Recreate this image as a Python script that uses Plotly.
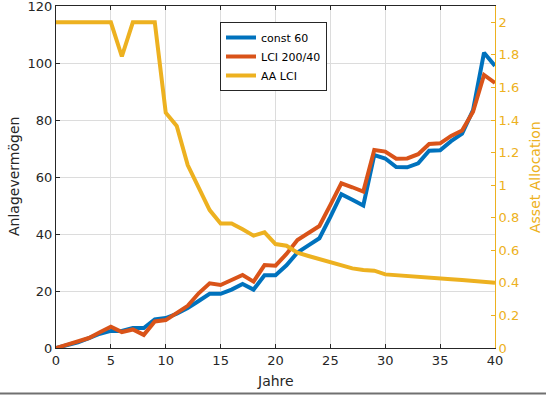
import plotly.graph_objects as go

years = list(range(0, 41))
const60 = [0, 1, 2, 3.5, 5, 6, 6, 7, 7, 10, 10.5, 12, 14, 16.5, 19, 19, 20.5, 22.5, 20.5, 25.5,
           25.5, 29, 33.5, 36, 38.5, 46, 54, 52, 50, 67.7, 66.5, 63.5, 63.4, 64.8, 69.2, 69.4,
           72.6, 75.2, 83.5, 103.6, 99]
lci = [0, 1.2, 2.2, 3.5, 5.5, 7.5, 5.6, 6.5, 4.6, 9.3, 9.8, 12.2, 14.8, 19.2, 22.7, 22.1, 23.9,
       25.6, 23.3, 29.1, 28.9, 33, 37.9, 40.2, 42.8, 50.2, 57.8, 56.4, 54.9, 69.5, 68.9, 66.4,
       66.5, 68, 71.6, 71.8, 74.4, 76.3, 82.9, 95.8, 93]
aa = [2, 2, 2, 2, 2, 2, 1.79, 2, 2, 2, 1.445, 1.363, 1.123, 0.986, 0.847, 0.765, 0.765, 0.729,
      0.69, 0.71, 0.638, 0.628, 0.585, 0.565, 0.546, 0.526, 0.51, 0.489, 0.479, 0.475, 0.452,
      0.446, 0.442, 0.438, 0.434, 0.428, 0.422, 0.417, 0.413, 0.409, 0.401]
names = ["const 60", "LCI 200/40", "AA LCI"]
colors = ["#0072BD", "#D95319", "#EDB120"]
xticks = [0, 5, 10, 15, 20, 25, 30, 35, 40]
yticks = [0, 20, 40, 60, 80, 100, 120]
y2ticks = [0, 0.2, 0.4, 0.6, 0.8, 1, 1.2, 1.4, 1.6, 1.8, 2]

FONT = "DejaVu Sans"
TXT = "#262626"
GRID = "#dcdcdc"

fig = go.Figure()
fig.add_trace(go.Scatter(x=years, y=const60, name=names[0], mode="lines",
                         line=dict(color=colors[0], width=4)))
fig.add_trace(go.Scatter(x=years, y=lci, name=names[1], mode="lines",
                         line=dict(color=colors[1], width=4)))
fig.add_trace(go.Scatter(x=years, y=aa, name=names[2], mode="lines", yaxis="y2",
                         line=dict(color=colors[2], width=4)))

L, R, T, B = 56, 51, 6, 47
PW, PH = 546 - L - R, 395 - T - B

fig.update_layout(
    width=546, height=395,
    margin=dict(l=L, r=R, t=T, b=B, autoexpand=False),
    paper_bgcolor="white", plot_bgcolor="white",
    font=dict(family=FONT, size=13, color=TXT),
    showlegend=True,
    legend=dict(x=(220 - L) / PW, y=1 - (22 - T) / PH, xanchor="left", yanchor="top",
                bgcolor="white", bordercolor="#262626", borderwidth=1,
                font=dict(family=FONT, size=11, color="black"),
                tracegroupgap=0, itemwidth=30),
    xaxis=dict(range=[0, 40], tickvals=xticks, ticks="inside", ticklen=4,
               tickcolor=TXT, showline=True, linecolor=TXT, linewidth=1, mirror="ticks",
               showgrid=True, gridcolor=GRID, gridwidth=1, zeroline=False, automargin=False,
               ticklabeloverflow="allow", tickfont=dict(size=13, color=TXT)),
    yaxis=dict(range=[0, 120], tickvals=yticks, ticks="inside", ticklen=4,
               tickcolor=TXT, showline=True, linecolor=TXT, linewidth=1,
               showgrid=True, gridcolor=GRID, gridwidth=1, zeroline=False, automargin=False,
               ticklabeloverflow="allow", tickfont=dict(size=13, color=TXT)),
    yaxis2=dict(range=[0, 2.1], tickvals=y2ticks, overlaying="y", side="right",
                ticks="inside", ticklen=4, tickcolor=colors[2], showline=True,
                linecolor=colors[2], linewidth=1, showgrid=False, zeroline=False,
                automargin=False, ticklabeloverflow="allow",
                tickfont=dict(size=13, color=colors[2])),
    annotations=[
        dict(text="Jahre", xref="paper", yref="paper", x=(275 - L) / PW, y=1 - (381 - T) / PH,
             showarrow=False, xanchor="center", yanchor="middle",
             font=dict(size=14, color=TXT)),
        dict(text="Anlagevermögen", xref="paper", yref="paper", x=(14 - L) / PW,
             y=1 - (177 - T) / PH, showarrow=False, textangle=-90,
             xanchor="center", yanchor="middle", font=dict(size=14, color=TXT)),
        dict(text="Asset Allocation", xref="paper", yref="paper", x=(535 - L) / PW,
             y=1 - (177 - T) / PH, showarrow=False, textangle=-90,
             xanchor="center", yanchor="middle", font=dict(size=14, color=colors[2])),
    ],
    shapes=[
        dict(type="line", xref="paper", yref="paper", x0=-L / PW, x1=(546 - L) / PW,
             y0=1 - (393.5 - T) / PH, y1=1 - (393.5 - T) / PH,
             line=dict(color="#707070", width=2)),
    ],
)

fig.write_html("out.html", config={"displayModeBar": False},
               post_script="document.body.style.margin='0';document.body.style.overflow='hidden';")
